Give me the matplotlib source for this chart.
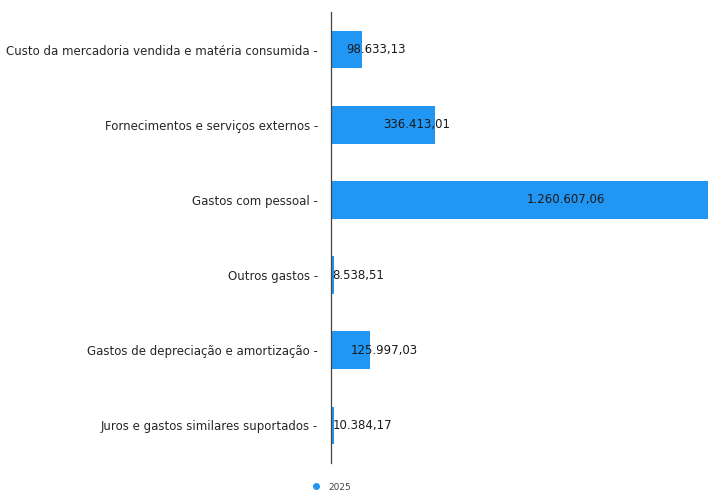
import matplotlib
matplotlib.use('Agg')
import matplotlib.pyplot as plt
from matplotlib.lines import Line2D

# data
categories = [
    'Custo da mercadoria vendida e matéria consumida',
    'Fornecimentos e serviços externos',
    'Gastos com pessoal',
    'Outros gastos',
    'Gastos de depreciação e amortização',
    'Juros e gastos similares suportados',
]
values = [98633.13, 336413.01, 1260607.06, 8538.51, 125997.03, 10384.17]
series_name = '2025'
bar_color = '#2196F3'


def fmt_pt(v):
    # 1234567.89 -> 1.234.567,89
    s = '{:,.2f}'.format(v)
    return s.replace(',', 'X').replace('.', ',').replace('X', '.')


fig = plt.figure(figsize=(7.08, 4.92), dpi=100)
ax = fig.add_axes([0.4675, 0.0589, 0.5325, 0.9167])

pos = list(range(len(categories)))
ax.barh(pos, values, height=0.5, color=bar_color)

# value labels start at the middle of each bar
for p, v in zip(pos, values):
    ax.text(v / 2, p, fmt_pt(v), ha='left', va='center', fontsize=8.5,
            color='#1a1a1a')

ax.set_ylim(5.5, -0.5)
ax.set_xlim(0, 1214000)
ax.set_yticks(pos)
ax.set_yticklabels([c + ' -' for c in categories], fontsize=8.5, color='#262626')
ax.tick_params(axis='y', length=0, pad=9.3)
ax.set_xticks([])

for s in ['top', 'right', 'bottom']:
    ax.spines[s].set_visible(False)
ax.spines['left'].set_color('#444444')
ax.spines['left'].set_linewidth(0.9)

handle = Line2D([], [], marker='o', linestyle='none', color=bar_color,
                markersize=4)
fig.legend([handle], [series_name], loc='center',
           bbox_to_anchor=(329 / 708, 1 - 487 / 492), frameon=False,
           fontsize=6.5, handletextpad=0.3, labelcolor='#444444',
           borderpad=0.1)

fig.savefig('out.png', dpi=100)
